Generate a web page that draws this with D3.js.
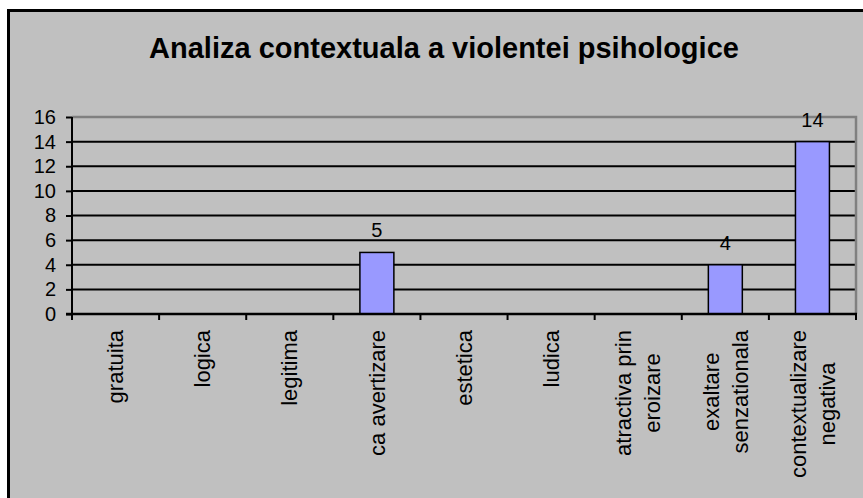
<!DOCTYPE html>
<html>
<head>
  <style>
    body { margin: 0; background: #fff; }
    svg { display: block; font-family: "Liberation Sans", Arial, sans-serif; }
  </style>
</head>
<body>
<script src="https://d3js.org/d3.v7.min.js"></script>
<div id="chart"></div>
<script>
  // Data
  const categories = [
    ["gratuita"],
    ["logica"],
    ["legitima"],
    ["ca avertizare"],
    ["estetica"],
    ["ludica"],
    ["atractiva prin", "eroizare"],
    ["exaltare", "senzationala"],
    ["contextualizare", "negativa"]
  ];
  const values = [0, 0, 0, 5, 0, 0, 0, 4, 14];
  const yTicks = [0, 2, 4, 6, 8, 10, 12, 14, 16];
  const title = "Analiza contextuala a violentei psihologice";

  const W = 863, H = 498;
  const plot = { left: 72, right: 856, top: 117, bottom: 314 };

  const svg = d3.select("#chart").append("svg")
    .attr("width", W)
    .attr("height", H);

  // chart area with thick black border (runs off the right / bottom edge)
  svg.append("rect")
    .attr("x", 8.5).attr("y", 10.5)
    .attr("width", 900).attr("height", 600)
    .attr("fill", "#c0c0c0")
    .attr("stroke", "#000")
    .attr("stroke-width", 3);

  svg.append("text")
    .attr("x", 444)
    .attr("y", 58)
    .attr("text-anchor", "middle")
    .style("font-size", "29px")
    .style("font-weight", "bold")
    .text(title);

  const keys = categories.map(d => d.join(" "));

  const x = d3.scaleBand()
    .domain(keys)
    .range([plot.left, plot.right])
    .padding(0);

  const y = d3.scaleLinear()
    .domain([0, 16])
    .range([plot.bottom, plot.top]);

  // horizontal gridlines
  svg.append("g")
    .selectAll("line")
    .data(yTicks.filter(d => d > 0 && d < 16))
    .join("line")
    .attr("x1", plot.left).attr("x2", plot.right)
    .attr("y1", d => y(d)).attr("y2", d => y(d))
    .attr("stroke", "#000")
    .attr("stroke-width", 2);

  // plot area border (grey top & right)
  svg.append("path")
    .attr("d", `M${plot.left},${y(16)}H${plot.right}V${plot.bottom}`)
    .attr("fill", "none")
    .attr("stroke", "#808080")
    .attr("stroke-width", 2.5);

  // bars
  const barW = x.bandwidth() * 0.39;
  svg.append("g")
    .selectAll("rect")
    .data(values.map((v, i) => ({ key: keys[i], v })).filter(d => d.v > 0))
    .join("rect")
    .attr("x", d => x(d.key) + (x.bandwidth() - barW) / 2)
    .attr("y", d => y(d.v))
    .attr("width", barW)
    .attr("height", d => y(0) - y(d.v))
    .attr("fill", "#9999ff")
    .attr("stroke", "#000")
    .attr("stroke-width", 1.5);

  // value labels
  svg.append("g")
    .selectAll("text")
    .data(values.map((v, i) => ({ key: keys[i], v })).filter(d => d.v > 0))
    .join("text")
    .attr("x", d => x(d.key) + x.bandwidth() / 2)
    .attr("y", d => y(d.v) - 15)
    .attr("text-anchor", "middle")
    .style("font-size", "20px")
    .text(d => d.v);

  // y axis
  const yAxis = svg.append("g")
    .attr("transform", `translate(${plot.left},0)`)
    .call(d3.axisLeft(y).tickValues(yTicks).tickSize(6).tickPadding(10));
  yAxis.select(".domain").attr("stroke", "#000").attr("stroke-width", 2)
    .attr("d", `M0,${y(16)}V${plot.bottom + 1}`);
  yAxis.selectAll(".tick line").attr("stroke", "#000").attr("stroke-width", 2);
  yAxis.selectAll(".tick text")
    .style("font-size", "20px")
    .style("font-family", "'Liberation Sans', Arial, sans-serif")
    .attr("fill", "#000");

  // x axis: ticks at band boundaries
  const xAxis = svg.append("g")
    .attr("transform", `translate(0,${plot.bottom})`);
  xAxis.append("line")
    .attr("x1", plot.left - 6).attr("x2", plot.right + 1)
    .attr("stroke", "#000").attr("stroke-width", 2.5);
  xAxis.selectAll(".xtick")
    .data(keys.map(k => x(k)).concat([plot.right]))
    .join("line")
    .attr("class", "xtick")
    .attr("x1", d => d).attr("x2", d => d)
    .attr("y1", 0).attr("y2", 6)
    .attr("stroke", "#000").attr("stroke-width", 2);

  // rotated category labels
  const lineGap = 29;
  const labels = svg.append("g")
    .selectAll("g")
    .data(categories)
    .join("g")
    .attr("transform", (d, i) => `translate(${x(keys[i]) + x.bandwidth() / 2},330) rotate(-90)`);

  labels.each(function (lines) {
    const g = d3.select(this);
    const texts = g.selectAll("text")
      .data(lines)
      .join("text")
      .attr("text-anchor", "middle")
      .attr("dy", "0.35em")
      .attr("y", (d, i) => (i - (lines.length - 1) / 2) * lineGap)
      .style("font-size", "22px")
      .text(d => d);
    let maxLen = 0;
    texts.each(function () { maxLen = Math.max(maxLen, this.getComputedTextLength()); });
    texts.attr("x", -maxLen / 2);
  });
</script>
</body>
</html>
